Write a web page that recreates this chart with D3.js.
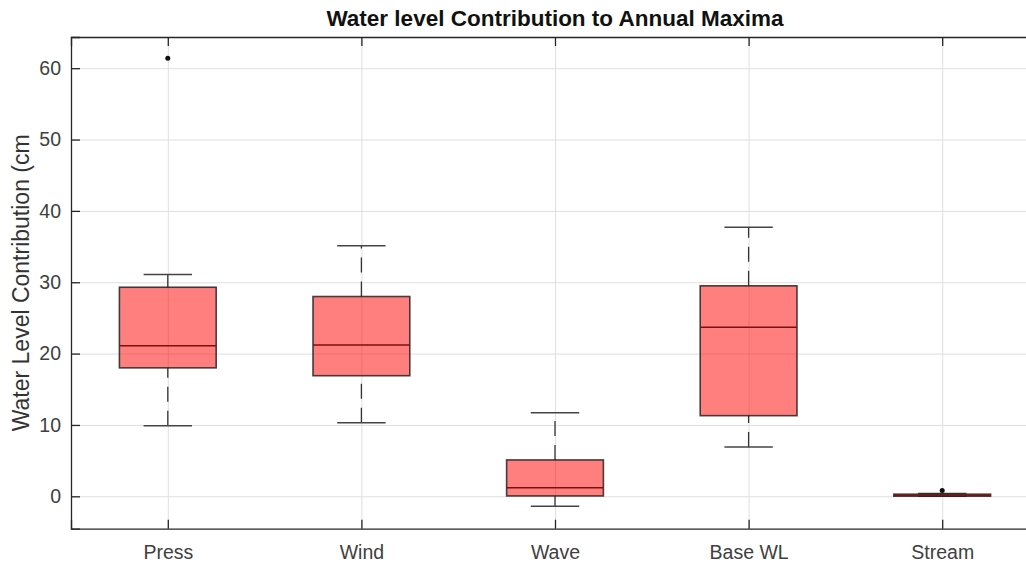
<!DOCTYPE html>
<html>
<head>
<meta charset="utf-8">
<script src="https://cdn.jsdelivr.net/npm/d3@7"></script>
<style>
  html, body { margin: 0; padding: 0; background: #fff; }
  svg { display: block; font-family: "Liberation Sans", Arial, Helvetica, sans-serif; }
</style>
</head>
<body>
<svg id="chart" width="1026" height="563"></svg>
<script>
// Annual-maxima contribution statistics per component (cm)
const categories  = ["Press", "Wind", "Wave", "Base WL", "Stream"];
const whiskerLow  = [9.9, 10.3, -1.4, 6.9, 0.0];
const q1          = [18.0, 16.9, 0.05, 11.3, 0.02];
const median      = [21.1, 21.2, 1.2, 23.7, 0.1];
const q3          = [29.3, 28.0, 5.1, 29.5, 0.3];
const whiskerHigh = [31.1, 35.1, 11.7, 37.7, 0.4];
const outliers    = [[61.4], [], [], [], [0.8]];
const yTicks      = [0, 10, 20, 30, 40, 50, 60];

const svg = d3.select("#chart");
const plot = { left: 71, top: 37, right: 1039, bottom: 528.7 };

const x = d3.scaleLinear().domain([0.5, categories.length + 0.5]).range([plot.left, plot.right]);
const y = d3.scaleLinear().domain([-4.54, 64.37]).range([plot.bottom, plot.top]);
const pos = i => x(i + 1);

const boxHalf = 0.25, capHalf = 0.125;

// grid
const grid = svg.append("g");
grid.append("g")
  .attr("transform", `translate(${plot.left},0)`)
  .call(d3.axisLeft(y).tickValues(yTicks).tickSize(-(plot.right - plot.left)).tickFormat(""))
  .call(g => g.select(".domain").remove())
  .call(g => g.selectAll("line").attr("stroke", "#dfdfdf").attr("stroke-width", 1));
grid.append("g")
  .attr("transform", `translate(0,${plot.bottom})`)
  .call(d3.axisBottom(x).tickValues(d3.range(1, categories.length + 1)).tickSize(-(plot.bottom - plot.top)).tickFormat(""))
  .call(g => g.select(".domain").remove())
  .call(g => g.selectAll("line").attr("stroke", "#dfdfdf").attr("stroke-width", 1));

// boxes
const idx = d3.range(categories.length);
const marks = svg.append("g");

// whiskers drawn from lower value to upper value
marks.selectAll("line.wlow").data(idx).join("line")
  .attr("class", "wlow")
  .attr("x1", pos).attr("x2", pos)
  .attr("y1", i => y(whiskerLow[i])).attr("y2", i => y(q1[i]))
  .attr("stroke", "#333").attr("stroke-width", 1.3).attr("stroke-dasharray", "15,9");
marks.selectAll("line.whigh").data(idx).join("line")
  .attr("class", "whigh")
  .attr("x1", pos).attr("x2", pos)
  .attr("y1", i => y(q3[i])).attr("y2", i => y(whiskerHigh[i]))
  .attr("stroke", "#333").attr("stroke-width", 1.3).attr("stroke-dasharray", "15,9");

// caps
["low", "high"].forEach(k => {
  const arr = k === "low" ? whiskerLow : whiskerHigh;
  marks.selectAll("line.cap" + k).data(idx).join("line")
    .attr("class", "cap" + k)
    .attr("x1", i => x(i + 1 - capHalf)).attr("x2", i => x(i + 1 + capHalf))
    .attr("y1", i => y(arr[i])).attr("y2", i => y(arr[i]))
    .attr("stroke", "#444").attr("stroke-width", 1.5);
});

// box bodies
marks.selectAll("rect.box").data(idx).join("rect")
  .attr("class", "box")
  .attr("x", i => x(i + 1 - boxHalf))
  .attr("width", i => x(i + 1 + boxHalf) - x(i + 1 - boxHalf))
  .attr("y", i => y(q3[i]))
  .attr("height", i => Math.max(y(q1[i]) - y(q3[i]), 0.5))
  .attr("fill", "rgb(255,0,0)").attr("fill-opacity", 0.5)
  .attr("stroke", "#1a1a1a").attr("stroke-opacity", 0.8).attr("stroke-width", 1.6);

// medians
marks.selectAll("line.med").data(idx).join("line")
  .attr("class", "med")
  .attr("x1", i => x(i + 1 - boxHalf)).attr("x2", i => x(i + 1 + boxHalf))
  .attr("y1", i => y(median[i])).attr("y2", i => y(median[i]))
  .attr("stroke", "#7a1010").attr("stroke-width", 1.5);

// outliers
const outPts = idx.flatMap(i => outliers[i].map(v => ({ i, v })));
marks.selectAll("circle.out").data(outPts).join("circle")
  .attr("class", "out")
  .attr("cx", d => pos(d.i)).attr("cy", d => y(d.v))
  .attr("r", 2.5).attr("fill", "#111");

// axes
const axColor = "#262626";
const yAxis = svg.append("g")
  .attr("transform", `translate(${plot.left},0)`)
  .call(d3.axisLeft(y).tickValues(yTicks).tickSize(-9).tickPadding(10));
const xAxis = svg.append("g")
  .attr("transform", `translate(0,${plot.bottom})`)
  .call(d3.axisBottom(x).tickValues(d3.range(1, categories.length + 1))
        .tickFormat(d => categories[d - 1]).tickSize(-9).tickPadding(16));
const topAxis = svg.append("g")
  .attr("transform", `translate(0,${plot.top})`)
  .call(d3.axisTop(x).tickValues(d3.range(1, categories.length + 1)).tickSize(-9).tickFormat(""));

[yAxis, xAxis, topAxis].forEach(g => {
  g.select(".domain").attr("stroke", axColor).attr("stroke-width", 1.3);
  g.selectAll(".tick line").attr("stroke", axColor).attr("stroke-width", 1.3);
  g.selectAll(".tick text").attr("fill", "#404040").attr("font-size", 19.5)
    .attr("font-family", "'Liberation Sans', Arial, sans-serif");
});

// title
svg.append("text")
  .attr("x", (plot.left + plot.right) / 2).attr("y", 26)
  .attr("text-anchor", "middle")
  .attr("font-size", 22.5).attr("font-weight", "bold").attr("fill", "#111")
  .text("Water level Contribution to Annual Maxima");

// y-axis label
svg.append("text")
  .attr("transform", `translate(29,${(plot.top + plot.bottom) / 2}) rotate(-90)`)
  .attr("text-anchor", "middle")
  .attr("font-size", 23).attr("fill", "#333")
  .text("Water Level Contribution (cm");
</script>
</body>
</html>
